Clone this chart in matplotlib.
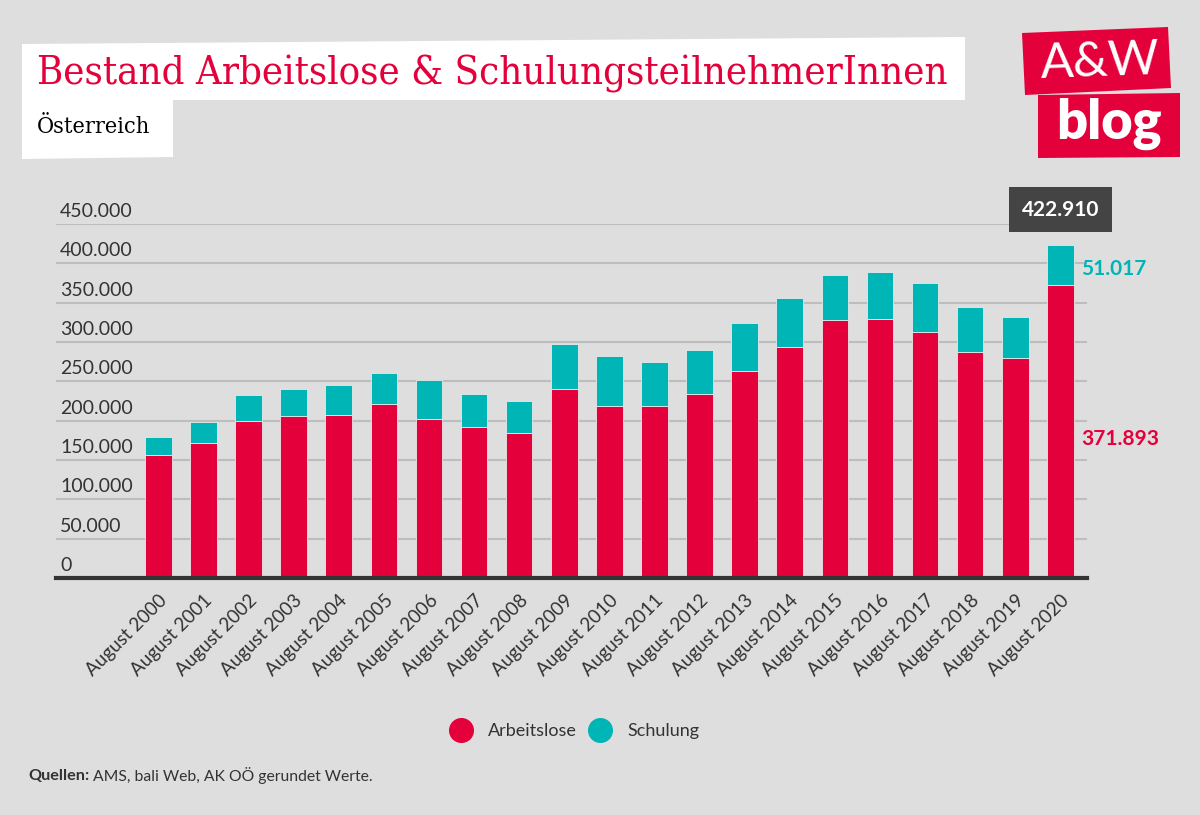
import matplotlib
matplotlib.use("Agg")
import matplotlib.pyplot as plt
from matplotlib.patches import Polygon
from matplotlib.lines import Line2D
import numpy as np

# data (August values, Austria)
years = list(range(2000, 2021))
labels = [f"August {y}" for y in years]
arbeitslose = [155900, 171200, 200000, 205500, 207600, 220700, 201700, 192400,
               184700, 239800, 219000, 219000, 234300, 263100, 293600, 327900,
               329600, 312700, 287700, 280100, 371893]
schulung = [22900, 26700, 32200, 34300, 38100, 40300, 49600, 41900, 39900,
            57200, 62800, 55100, 55100, 61000, 62700, 57200, 59400, 62700,
            57200, 51700, 51017]
yticks = [0, 50000, 100000, 150000, 200000, 250000, 300000, 350000, 400000, 450000]

BG = "#dedede"
RED = "#e4003a"
TEAL = "#00b5b5"
TXT = "#333333"
SANS = ["Lato", "DejaVu Sans"]
SERIF = ["DejaVu Serif"]


def de(v):
    return f"{v:,}".replace(",", ".")


def fx(x):
    return x / 1200


def fy(y):
    return 1 - y / 815


def fit_width(txt, target_px):
    # shrink/grow a text so that it spans target_px pixels
    fig.canvas.draw()
    w = txt.get_window_extent().width
    txt.set_fontsize(txt.get_fontsize() * target_px / w)


fig = plt.figure(figsize=(12, 8.15), dpi=100, facecolor=BG)

# header boxes
for pts, col in [
    ([(22, 44), (965, 37), (965, 100), (22, 100)], "white"),
    ([(22, 100), (173, 100), (173, 157), (22, 159)], "white"),
    ([(1022, 33), (1168, 27), (1171, 88), (1025, 95)], RED),
    ([(1038, 95), (1180, 93), (1180, 157), (1038, 158)], RED),
]:
    fig.patches.append(Polygon([(fx(a), fy(b)) for a, b in pts], closed=True,
                               transform=fig.transFigure, facecolor=col, edgecolor="none"))

title = fig.text(fx(37), fy(74), "Bestand Arbeitslose & SchulungsteilnehmerInnen",
                 color=RED, fontsize=28, family=SERIF, fontstretch="condensed",
                 va="center", ha="left")
sub = fig.text(fx(37), fy(127), "Österreich", color="black", fontsize=17,
               family=SERIF, fontstretch="condensed", va="center", ha="left")
fit_width(title, 911)
fit_width(sub, 113)

logo = fig.text(fx(1040), fy(62), "A&W", color="white", fontsize=37, family=SANS,
                fontweight="normal", va="center", ha="left", rotation=2)
fit_width(logo, 121)
fig.text(fx(1109), fy(124), "blog", color="white", fontsize=39, family=SANS,
         fontweight="heavy", va="center", ha="center")

ax = fig.add_axes([fx(56), fy(578), fx(1087) - fx(56), fy(224) - fy(578)])
ax.set_facecolor(BG)

x = np.arange(len(years))
ax.bar(x, arbeitslose, width=0.59, color=RED, edgecolor="#e9e9e9", linewidth=0.6,
       zorder=3, label="Arbeitslose")
ax.bar(x, schulung, bottom=arbeitslose, width=0.59, color=TEAL, edgecolor="#e9e9e9",
       linewidth=0.6, zorder=3, label="Schulung")

ax.set_xlim(-2.27, 20.59)
ax.set_ylim(0, 450000)
for s in ["top", "right", "left"]:
    ax.spines[s].set_visible(False)
ax.spines["bottom"].set_color(TXT)
ax.spines["bottom"].set_linewidth(3)
ax.spines["bottom"].set_zorder(5)

ax.set_yticks(yticks[1:])
ax.yaxis.grid(True, color="#bdbdbd", linewidth=1.5, zorder=0)
ax.tick_params(axis="y", length=0, labelleft=False)
for v in yticks:
    ax.text(0.004, v + 5000, de(v), transform=ax.get_yaxis_transform(),
            ha="left", va="bottom", fontsize=14, color=TXT, family=SANS)

ax.set_xticks(x)
ax.set_xticklabels(labels, rotation=45, ha="right", rotation_mode="anchor",
                   fontsize=13.5, color=TXT, family=SANS)
ax.tick_params(axis="x", length=0, pad=10)

# annotations for the latest month
last = len(years) - 1
total = arbeitslose[last] + schulung[last]
ax.text(last, total + 45000, de(total), ha="center", va="center", color="white",
        fontsize=15, fontweight="bold", family=SANS, clip_on=False,
        bbox=dict(boxstyle="square,pad=0.6", facecolor="#444444", edgecolor="none"))
ax.annotate(de(schulung[last]), (last + 0.3, arbeitslose[last] + schulung[last] * 0.42),
            xytext=(5, 0), textcoords="offset points", ha="left", va="center",
            color=TEAL, fontsize=15, fontweight="bold", family=SANS, annotation_clip=False)
ax.annotate(de(arbeitslose[last]), (last + 0.3, arbeitslose[last] * 0.475),
            xytext=(5, 0), textcoords="offset points", ha="left", va="center",
            color=RED, fontsize=15, fontweight="bold", family=SANS, annotation_clip=False)

handles = [Line2D([], [], marker="o", linestyle="none", markersize=17, color=RED),
           Line2D([], [], marker="o", linestyle="none", markersize=17, color=TEAL)]
fig.legend(handles, ["Arbeitslose", "Schulung"], loc="center", ncol=2,
           bbox_to_anchor=(fx(571), fy(731)), frameon=False,
           prop={"family": SANS, "size": 13}, labelcolor=TXT,
           handletextpad=0.5, columnspacing=0.3)

q = fig.text(fx(28), fy(776), "Quellen:", fontsize=11.7, fontweight="bold",
             color=TXT, family=SANS, va="center", ha="left")
fig.canvas.draw()
qx = q.get_window_extent().x1 + 4
fig.text(qx / 1200, fy(776), "AMS, bali Web, AK OÖ gerundet Werte.", fontsize=11.3,
         color=TXT, family=SANS, va="center", ha="left")

fig.savefig("out.png", dpi=100, facecolor=BG)
